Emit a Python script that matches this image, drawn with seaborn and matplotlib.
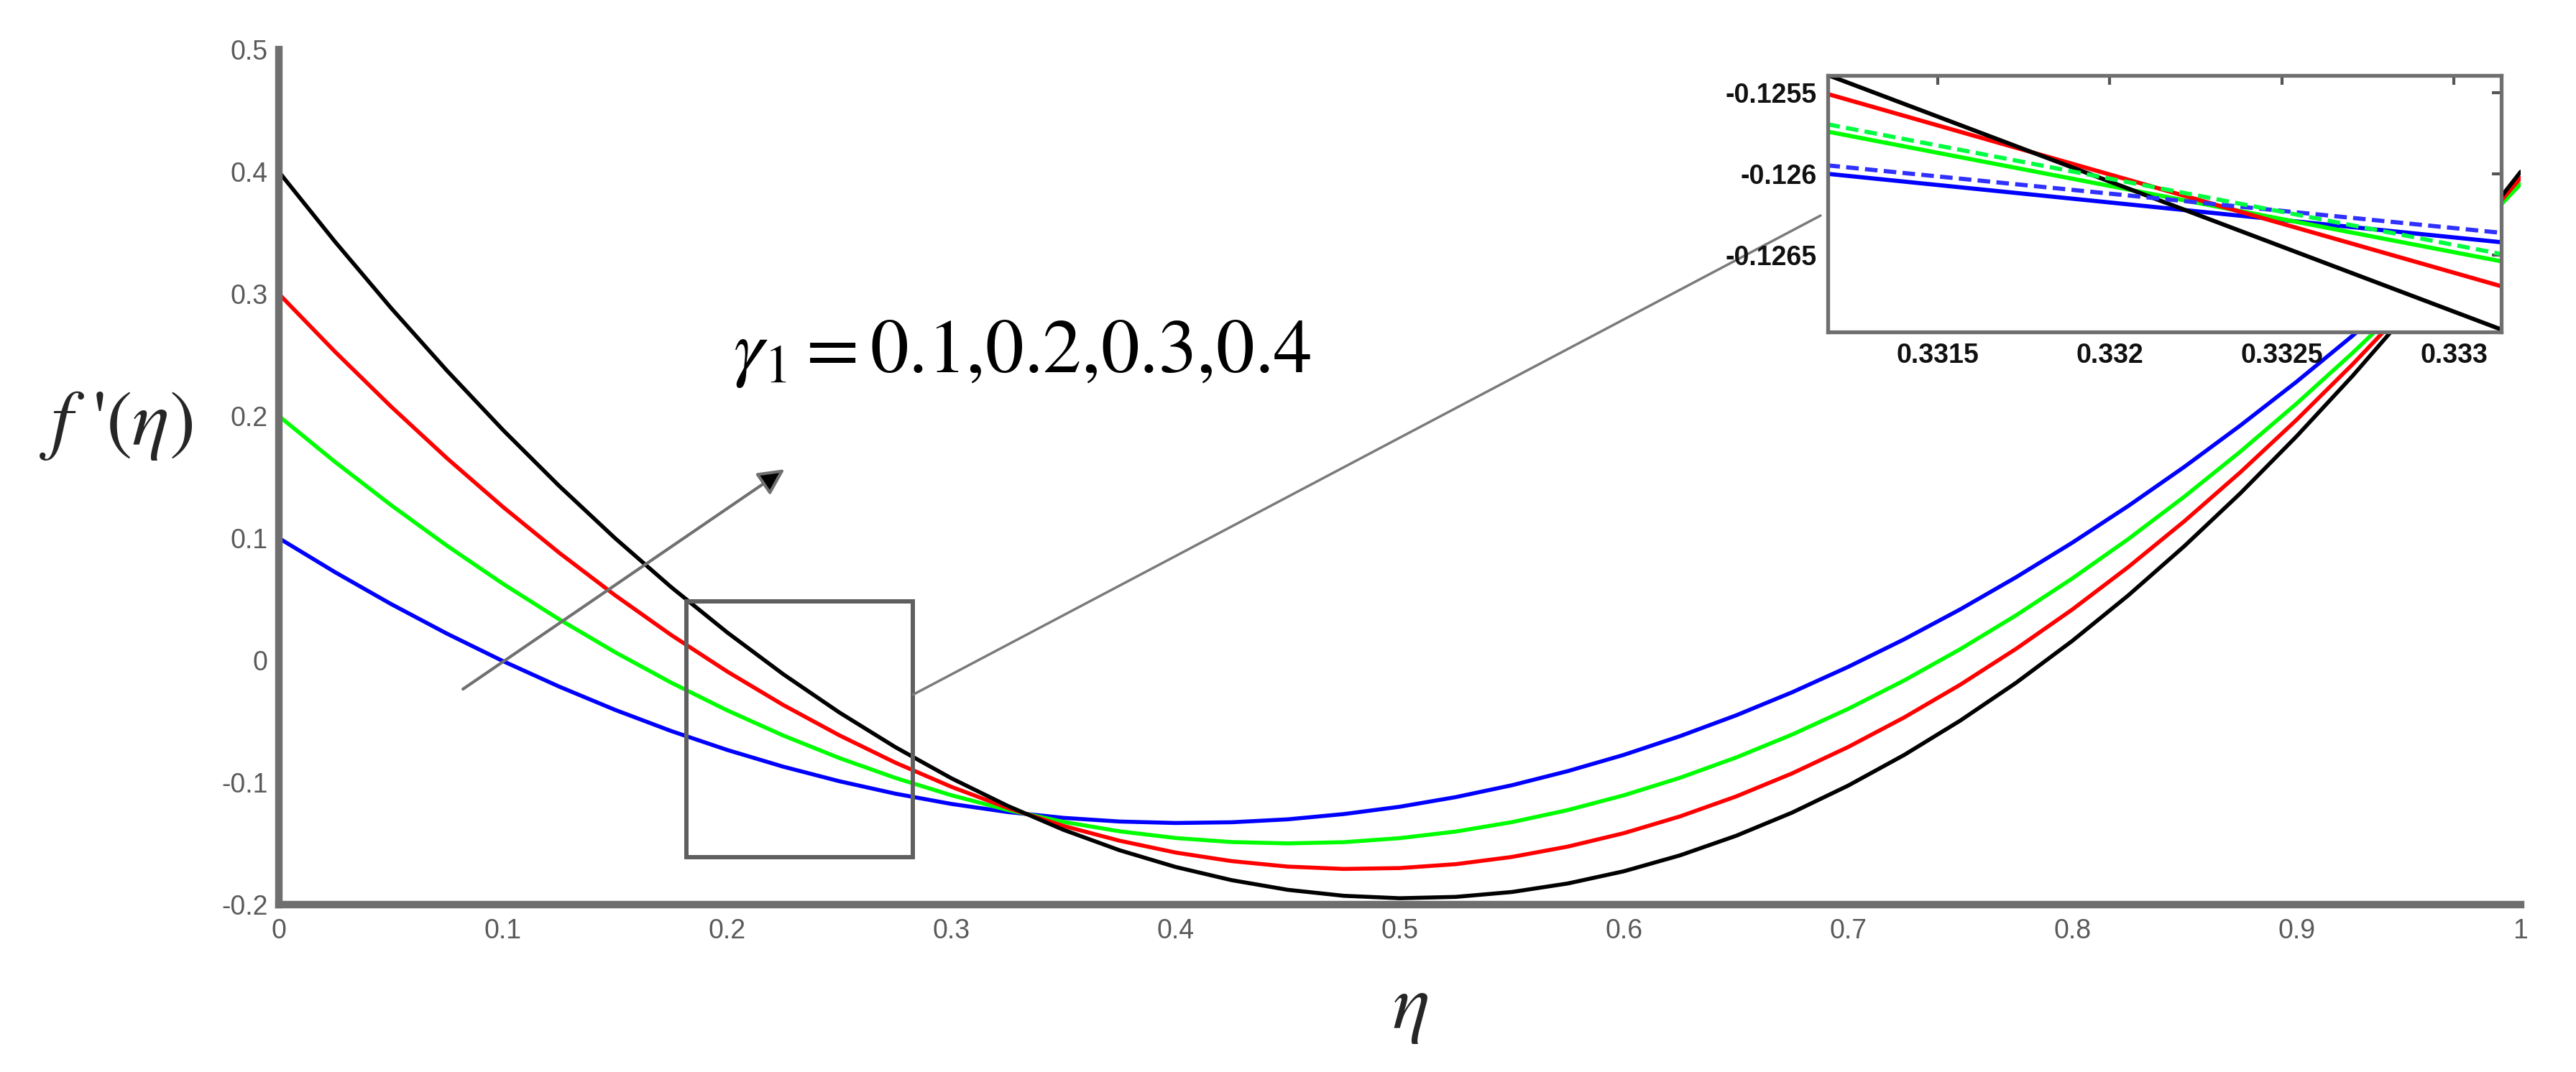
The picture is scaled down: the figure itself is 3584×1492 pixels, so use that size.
import matplotlib
matplotlib.use("Agg")
import matplotlib.pyplot as plt
import seaborn as sns
import pandas as pd
from matplotlib.patches import Rectangle

# ---------------- data ----------------
eta = [0.000, 0.025, 0.050, 0.075, 0.100, 0.125, 0.150, 0.175, 0.200, 0.225,
       0.250, 0.275, 0.300, 0.325, 0.350, 0.375, 0.400, 0.425, 0.450, 0.475,
       0.500, 0.525, 0.550, 0.575, 0.600, 0.625, 0.650, 0.675, 0.700, 0.725,
       0.750, 0.775, 0.800, 0.825, 0.850, 0.875, 0.900, 0.925, 0.950, 0.975, 1.000]
f_gamma_01 = [0.1000, 0.0722, 0.0461, 0.0218, -0.0007, -0.0215, -0.0406, -0.0579, -0.0734, -0.0871,
              -0.0990, -0.1092, -0.1176, -0.1242, -0.1290, -0.1320, -0.1332, -0.1326, -0.1302, -0.1259,
              -0.1199, -0.1120, -0.1023, -0.0907, -0.0774, -0.0621, -0.0451, -0.0262, -0.0054, 0.0172,
              0.0417, 0.0681, 0.0963, 0.1264, 0.1584, 0.1923, 0.2280, 0.2657, 0.3052, 0.3467, 0.3900]
f_gamma_02 = [0.2000, 0.1625, 0.1271, 0.0938, 0.0626, 0.0336, 0.0066, -0.0183, -0.0410, -0.0616,
              -0.0800, -0.0963, -0.1105, -0.1225, -0.1323, -0.1400, -0.1455, -0.1488, -0.1499, -0.1489,
              -0.1456, -0.1402, -0.1325, -0.1226, -0.1105, -0.0962, -0.0796, -0.0608, -0.0398, -0.0165,
              0.0091, 0.0369, 0.0670, 0.0993, 0.1340, 0.1709, 0.2101, 0.2516, 0.2954, 0.3416, 0.3900]
f_gamma_03 = [0.3000, 0.2527, 0.2078, 0.1654, 0.1255, 0.0881, 0.0532, 0.0207, -0.0092, -0.0366,
              -0.0614, -0.0838, -0.1036, -0.1208, -0.1356, -0.1477, -0.1574, -0.1644, -0.1689, -0.1708,
              -0.1701, -0.1669, -0.1610, -0.1525, -0.1415, -0.1278, -0.1115, -0.0926, -0.0710, -0.0468,
              -0.0200, 0.0095, 0.0416, 0.0764, 0.1139, 0.1540, 0.1968, 0.2423, 0.2905, 0.3414, 0.3950]
f_gamma_04 = [0.4000, 0.3428, 0.2885, 0.2371, 0.1885, 0.1428, 0.0999, 0.0599, 0.0228, -0.0114,
              -0.0427, -0.0711, -0.0966, -0.1191, -0.1388, -0.1555, -0.1692, -0.1800, -0.1879, -0.1928,
              -0.1948, -0.1937, -0.1897, -0.1827, -0.1727, -0.1597, -0.1437, -0.1247, -0.1026, -0.0775,
              -0.0494, -0.0183, 0.0159, 0.0532, 0.0935, 0.1368, 0.1833, 0.2328, 0.2855, 0.3412, 0.4000]
gamma_labels = ["0.1", "0.2", "0.3", "0.4"]
line_colors = ["#0000FF", "#00FF00", "#FF0000", "#000000"]

# inset (zoom around eta ~ 0.332)
inset_eta = [0.33118, 0.33314]
inset_g01 = [-0.126000, -0.126422]
inset_g01_dash = [-0.125948, -0.126364]
inset_g02 = [-0.125740, -0.126540]
inset_g02_dash = [-0.125695, -0.126495]
inset_g03 = [-0.125508, -0.126694]
inset_g04 = [-0.125391, -0.126961]

x_ticks = [0, 0.1, 0.2, 0.3, 0.4, 0.5, 0.6, 0.7, 0.8, 0.9, 1.0]
x_tick_labels = ["0", "0.1", "0.2", "0.3", "0.4", "0.5", "0.6", "0.7", "0.8", "0.9", "1"]
y_ticks = [-0.2, -0.1, 0, 0.1, 0.2, 0.3, 0.4, 0.5]
y_tick_labels = ["-0.2", "-0.1", "0", "0.1", "0.2", "0.3", "0.4", "0.5"]
inset_x_ticks = [0.3315, 0.3320, 0.3325, 0.3330]
inset_x_tick_labels = ["0.3315", "0.332", "0.3325", "0.333"]
inset_y_ticks = [-0.1265, -0.1260, -0.1255]
inset_y_tick_labels = ["-0.1265", "-0.126", "-0.1255"]

annotation_text = r"$\gamma_1 =$0.1,0.2,0.3,0.4"

# ---------------- style ----------------
sns.set_style("white")
plt.rcParams["font.family"] = ["Liberation Sans", "DejaVu Sans"]
plt.rcParams["mathtext.fontset"] = "stix"
plt.rcParams["axes.unicode_minus"] = False

frame_gray = "#6f6f6f"
label_gray = "#5a5a5a"

fig = plt.figure(figsize=(35.84, 14.92), dpi=100)
ax = fig.add_axes([0.10826, 0.15617, 0.87026, 0.79759])

series = [f_gamma_01, f_gamma_02, f_gamma_03, f_gamma_04]
df = pd.concat(
    [pd.DataFrame({"eta": eta, "f": vals, "gamma": g}) for vals, g in zip(series, gamma_labels)],
    ignore_index=True,
)
sns.lineplot(data=df, x="eta", y="f", hue="gamma", hue_order=gamma_labels,
             palette=dict(zip(gamma_labels, line_colors)), linewidth=4.0,
             legend=False, errorbar=None, ax=ax)

ax.set_xlim(0, 1)
ax.set_ylim(-0.2, 0.5)
ax.set_xticks(x_ticks)
ax.set_xticklabels(x_tick_labels)
ax.set_yticks(y_ticks)
ax.set_yticklabels(y_tick_labels)
ax.tick_params(axis="both", direction="in", length=24, width=4.5, color="#4a4a4a",
               labelsize=27, labelcolor=label_gray)
ax.tick_params(axis="x", pad=14)
ax.tick_params(axis="y", pad=11)
for side in ["top", "right"]:
    ax.spines[side].set_visible(False)
for side in ["left", "bottom"]:
    ax.spines[side].set_color(frame_gray)
    ax.spines[side].set_linewidth(7.5)

ax.set_xlabel(r"$\eta$", fontsize=78, va="center")
ax.xaxis.set_label_coords(0.5046, -0.1227)
ax.set_ylabel(r"$f$ '($\eta$)", fontsize=78, rotation=0, ha="center", va="center",
              fontfamily="STIXGeneral")
ax.yaxis.set_label_coords(-0.0725, 0.56)

# annotation text + arrow
ax.text(0.2026, 0.236, annotation_text, fontsize=77, ha="left", va="baseline",
        color="black", fontfamily="STIXGeneral")
arrow_tail = (0.0821, -0.0236)
arrow_head = (0.2256, 0.1564)
ax.annotate("", xy=arrow_head, xytext=arrow_tail,
            arrowprops=dict(arrowstyle="-|>", mutation_scale=55, lw=3.0,
                            ec="#707070", fc="black", shrinkA=0, shrinkB=0))

# zoom rectangle and connector
zoom_box = (0.1819, -0.161, 0.1009, 0.2094)
ax.add_patch(Rectangle(zoom_box[:2], zoom_box[2], zoom_box[3], fill=False,
                       ec="#5f5f5f", lw=4.3, zorder=3))
connector_x = [0.2828, 0.6877]
connector_y = [-0.0282, 0.3641]
ax.plot(connector_x, connector_y, color="#7a7a7a", lw=2.5, zorder=3)

# ---------------- inset ----------------
axin = fig.add_axes([0.70954, 0.69035, 0.26144, 0.23928])
axin.set_facecolor("white")
inset_df = pd.concat(
    [pd.DataFrame({"eta": inset_eta, "f": v, "gamma": g})
     for v, g in zip([inset_g01, inset_g02, inset_g03, inset_g04], gamma_labels)],
    ignore_index=True,
)
sns.lineplot(data=inset_df, x="eta", y="f", hue="gamma", hue_order=gamma_labels,
             palette=dict(zip(gamma_labels, line_colors)), linewidth=4.2,
             legend=False, errorbar=None, ax=axin)
axin.plot(inset_eta, inset_g01_dash, color="#3030FF", lw=4.2, ls=(0, (3, 1.5)))
axin.plot(inset_eta, inset_g02_dash, color="#00FF40", lw=4.2, ls=(0, (3, 1.5)))
axin.set_xlim(0.331181, 0.3331374)
axin.set_ylim(-0.126974, -0.1253942)
axin.set_xticks(inset_x_ticks)
axin.set_xticklabels(inset_x_tick_labels)
axin.set_yticks(inset_y_ticks)
axin.set_yticklabels(inset_y_tick_labels)
axin.set_xlabel("")
axin.set_ylabel("")
axin.tick_params(axis="both", direction="in", length=9.5, width=3, color="#555555",
                 top=True, right=True, labelsize=27, labelcolor="#111111", pad=11)
for lab in axin.get_xticklabels() + axin.get_yticklabels():
    lab.set_fontweight("bold")
for side in ["top", "right", "left", "bottom"]:
    axin.spines[side].set_visible(True)
    axin.spines[side].set_color(frame_gray)
    axin.spines[side].set_linewidth(3.8)

fig.savefig("out.png", dpi=100, facecolor="white")
